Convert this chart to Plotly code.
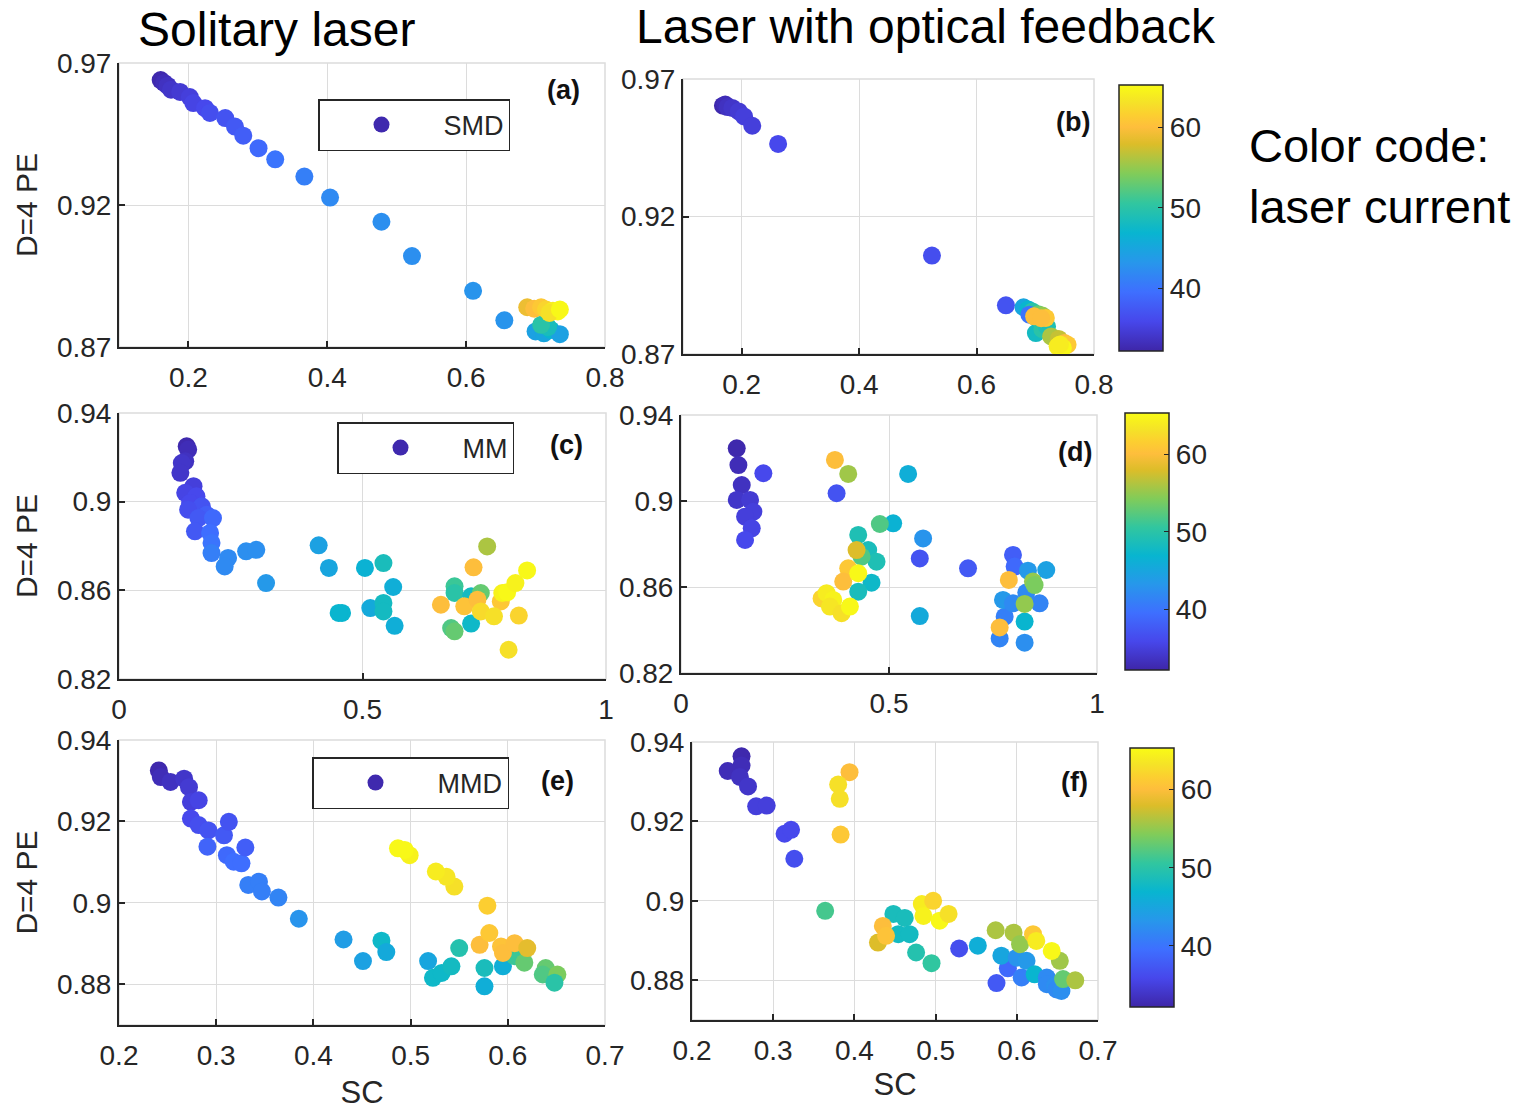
import plotly.graph_objects as go

# ---------------- data: SC, D=4 PE and laser current (mA) ----------------
# (a) solitary laser, SMD
sc_a = [0.160, 0.165, 0.170, 0.175, 0.188, 0.202, 0.207, 0.224, 0.231, 0.253,
        0.267, 0.279, 0.301, 0.325, 0.367, 0.404, 0.478, 0.522, 0.610, 0.655,
        0.700, 0.712, 0.722, 0.735, 0.718, 0.708,
        0.688, 0.698, 0.708, 0.715, 0.725, 0.732, 0.720, 0.735]
pe_a = [0.9640, 0.9630, 0.9620, 0.9606, 0.9598, 0.9580, 0.9559, 0.9541, 0.9524, 0.9506,
        0.9476, 0.9444, 0.9400, 0.9361, 0.9300, 0.9226, 0.9141, 0.9020, 0.8898, 0.8794,
        0.8755, 0.8748, 0.8760, 0.8745, 0.8770, 0.8778,
        0.8840, 0.8835, 0.8840, 0.8832, 0.8828, 0.8825, 0.8820, 0.8832]
cur_a = [32.5, 33, 33.5, 34, 34.5, 35, 35.5, 36, 36.5, 37,
         37.5, 38, 39, 40, 41, 42, 42.5, 42.5, 43, 43,
         44.5, 45, 47, 44.5, 48.5, 50,
         59, 60, 61, 62, 64, 65, 63, 65]

# (b) laser with optical feedback, SMD
sc_b = [0.168, 0.172, 0.176, 0.184, 0.195, 0.204, 0.218, 0.262, 0.524, 0.650,
        0.680, 0.688, 0.695, 0.690, 0.705, 0.712, 0.700, 0.701, 0.712, 0.720,
        0.698, 0.718, 0.710, 0.727, 0.740, 0.750, 0.755, 0.738, 0.747, 0.742]
pe_b = [0.9603, 0.9607, 0.9598, 0.9595, 0.9582, 0.9564, 0.9530, 0.9464, 0.9058, 0.8877,
        0.8870, 0.8862, 0.8855, 0.8843, 0.8845, 0.8840, 0.8835, 0.8776, 0.8790, 0.8800,
        0.8837, 0.8831, 0.8830, 0.8764, 0.8755, 0.8740, 0.8734, 0.8728, 0.8722, 0.8735]
cur_b = [32.5, 33, 33.5, 34, 34.5, 35, 35, 36, 36.5, 37,
         45, 47, 50, 40, 53, 55, 52, 48, 50, 49,
         60, 61, 60, 56, 57, 60, 61, 64, 65, 64]

# (c) solitary laser, MM
sc_c = [0.139, 0.142, 0.136, 0.129, 0.126, 0.153, 0.136, 0.159, 0.146, 0.170,
        0.142, 0.180, 0.163, 0.193, 0.156, 0.187, 0.190, 0.190, 0.224, 0.217,
        0.261, 0.282, 0.302, 0.410, 0.431, 0.505, 0.543, 0.563, 0.458, 0.451,
        0.516, 0.543, 0.543, 0.566, 0.689, 0.689, 0.723, 0.743, 0.682, 0.689,
        0.723, 0.756, 0.728, 0.661, 0.709, 0.736, 0.784, 0.743, 0.770, 0.821,
        0.800, 0.787, 0.797, 0.814, 0.838]
pe_c = [0.9250, 0.9235, 0.9182, 0.9174, 0.9130, 0.9070, 0.9040, 0.9024, 0.8994, 0.8979,
        0.8964, 0.8941, 0.8926, 0.8926, 0.8866, 0.8859, 0.8814, 0.8768, 0.8746, 0.8708,
        0.8776, 0.8783, 0.8633, 0.8803, 0.8701, 0.8701, 0.8723, 0.8615, 0.8498, 0.8498,
        0.8520, 0.8543, 0.8505, 0.8440, 0.8618, 0.8588, 0.8573, 0.8588, 0.8430, 0.8415,
        0.8450, 0.8798, 0.8704, 0.8535, 0.8528, 0.8558, 0.8550, 0.8505, 0.8483, 0.8486,
        0.8332, 0.8588, 0.8591, 0.8633, 0.8690]
cur_c = [32.5, 33, 33.5, 34, 34, 35, 35.5, 36, 36, 37,
         36.5, 38, 37.5, 39, 37.5, 39.5, 40, 41, 42, 42,
         42.5, 42.5, 43.5, 44.5, 45, 46.5, 48.5, 46, 47, 47,
         45.5, 48, 48, 46, 51, 50, 48, 53, 52, 53,
         47.5, 56, 60, 60, 60.5, 60, 61, 62.5, 63, 62,
         63, 64.5, 65, 64.5, 65]

# (d) laser with optical feedback, MM
sc_d = [0.134, 0.138, 0.146, 0.134, 0.166, 0.174, 0.154, 0.170, 0.154, 0.198,
        0.374, 0.370, 0.402, 0.546, 0.582, 0.574, 0.574, 0.690, 0.510, 0.478,
        0.426, 0.450, 0.470, 0.434, 0.458, 0.426, 0.422, 0.402, 0.390, 0.338,
        0.350, 0.366, 0.358, 0.386, 0.406, 0.426,
        0.798, 0.802, 0.766, 0.826, 0.778, 0.774, 0.798, 0.830, 0.862, 0.834,
        0.878, 0.826, 0.788, 0.766, 0.846, 0.850, 0.826]
pe_d = [0.9245, 0.9167, 0.9074, 0.9005, 0.9005, 0.8950, 0.8927, 0.8873, 0.8819, 0.9129,
        0.9036, 0.9191, 0.9126, 0.9126, 0.8826, 0.8733, 0.8465, 0.8687, 0.8896, 0.8893,
        0.8842, 0.8772, 0.8718, 0.8741, 0.8620, 0.8578, 0.8772, 0.8687, 0.8625, 0.8547,
        0.8571, 0.8540, 0.8509, 0.8478, 0.8509, 0.8664,
        0.8749, 0.8695, 0.8361, 0.8341, 0.8462, 0.8540, 0.8524, 0.8574, 0.8524, 0.8676,
        0.8679, 0.8439, 0.8633, 0.8412, 0.8625, 0.8609, 0.8521]
cur_d = [32.5, 33, 33.5, 34, 34.5, 35, 35, 35.5, 36, 36,
         37, 60, 55.5, 46, 43, 37, 45.5, 37.5, 46.5, 52,
         49, 48.5, 49, 52, 47.5, 48.5, 58, 61, 60, 62,
         64, 64.5, 63.5, 63, 65, 65,
         38, 39, 41.5, 42.5, 41, 43.5, 42, 42, 41.5, 43.5,
         44.5, 47, 60, 60, 55, 54, 55]

# (e) solitary laser, MMD
sc_e = [0.241, 0.243, 0.253, 0.267, 0.272, 0.274, 0.282, 0.274, 0.282, 0.292,
        0.308, 0.313, 0.291, 0.311, 0.318, 0.326, 0.330, 0.333, 0.344, 0.347,
        0.364, 0.385, 0.431, 0.451, 0.470, 0.475, 0.518, 0.523, 0.532, 0.542,
        0.550, 0.576, 0.576, 0.595, 0.607, 0.617, 0.639, 0.636, 0.651, 0.648,
        0.571, 0.581, 0.593, 0.595, 0.607, 0.620, 0.579, 0.545, 0.537, 0.526,
        0.499, 0.494, 0.487]
pe_e = [0.9325, 0.9309, 0.9297, 0.9305, 0.9284, 0.9248, 0.9252, 0.9207, 0.9191, 0.9178,
        0.9166, 0.9199, 0.9138, 0.9117, 0.9101, 0.9097, 0.9136, 0.9044, 0.9052, 0.9028,
        0.9013, 0.8961, 0.8910, 0.8857, 0.8907, 0.8879, 0.8857, 0.8816, 0.8828, 0.8844,
        0.8889, 0.8840, 0.8795, 0.8844, 0.8869, 0.8853, 0.8840, 0.8824, 0.8824, 0.8804,
        0.8897, 0.8926, 0.8893, 0.8877, 0.8901, 0.8889, 0.8993, 0.9040, 0.9064, 0.9077,
        0.9117, 0.9130, 0.9134]
cur_e = [32.5, 33, 33.5, 34, 34.5, 35, 35.5, 36, 36.5, 37,
         37.5, 37, 38.5, 39, 39.5, 39.5, 38, 41, 41, 41,
         41.5, 43, 44, 44.5, 47.5, 45.5, 45, 47.5, 47.5, 48,
         49.5, 48.5, 46, 46, 51, 53, 53, 52, 54, 50,
         60, 61, 60.5, 60, 60, 58.5, 61.5, 63, 63.5, 64,
         64.5, 65, 65]

# (f) laser with optical feedback, MMD
sc_f = [0.261, 0.261, 0.244, 0.259, 0.269, 0.279, 0.292, 0.314, 0.322, 0.326,
        0.394, 0.380, 0.382, 0.383, 0.364, 0.448, 0.462, 0.454, 0.468, 0.476,
        0.495, 0.429, 0.435, 0.439, 0.483, 0.497, 0.485, 0.505, 0.516, 0.529,
        0.552, 0.575, 0.589, 0.606, 0.581, 0.600, 0.612, 0.622, 0.637, 0.637,
        0.647, 0.649, 0.655, 0.574, 0.596, 0.604, 0.657, 0.653, 0.672, 0.620,
        0.624, 0.643]
pe_f = [0.9364, 0.9341, 0.9327, 0.9312, 0.9288, 0.9238, 0.9240, 0.9169, 0.9179, 0.9106,
        0.9324, 0.9293, 0.9257, 0.9167, 0.8975, 0.8967, 0.8957, 0.8916, 0.8916, 0.8870,
        0.8843, 0.8895, 0.8937, 0.8912, 0.8992, 0.9000, 0.8962, 0.8950, 0.8967, 0.8880,
        0.8887, 0.8793, 0.8830, 0.8807, 0.8862, 0.8857, 0.8849, 0.8815, 0.8807, 0.8790,
        0.8786, 0.8777, 0.8773, 0.8926, 0.8920, 0.8891, 0.8803, 0.8849, 0.8800, 0.8916,
        0.8899, 0.8874]
cur_f = [32.5, 33, 33, 33.5, 34, 35, 35, 36, 36, 36.5,
         60, 63, 63, 61, 51.5, 48.5, 48.5, 48, 48, 49.5,
         50.5, 58, 60, 60.5, 64, 62, 64.5, 65, 63, 36.5,
         46, 37.5, 39, 41, 45, 43, 43.5, 47, 42, 42,
         42.5, 42, 42.5, 56, 56, 55, 53, 55.5, 56, 61,
         64, 65]

# ---------------- styling ----------------
FONT = "Arial, Liberation Sans, sans-serif"
DARK = "#262626"
GRID = "#DCDCDC"
W, H = 1534, 1110

# parula colour map
parula_rgb = [
    (0.2422, 0.1504, 0.6603), (0.2803, 0.2782, 0.9221), (0.2440, 0.4358, 0.9988),
    (0.1540, 0.5902, 0.9218), (0.0297, 0.7082, 0.8163), (0.1938, 0.7758, 0.6251),
    (0.5044, 0.7993, 0.3480), (0.8634, 0.7406, 0.1596), (0.9956, 0.7434, 0.2371),
    (0.9892, 0.8136, 0.1885), (0.9610, 0.8890, 0.1537), (0.9769, 0.9839, 0.0805)]
parula_pos = [0, 7, 14, 21, 28, 35, 42, 49, 53, 56, 59, 63]
parula = [[p / 63, "rgb(%d,%d,%d)" % tuple(round(c * 255) for c in rgb)]
          for p, rgb in zip(parula_pos, parula_rgb)]
CMIN, CMAX = 32.2, 65.3


def parula_at(value):
    """Colour of the parula map for a current value (linear between stops)."""
    t = min(max((value - CMIN) / (CMAX - CMIN), 0), 1)
    stops = [p / 63 for p in parula_pos]
    for j in range(len(stops) - 1):
        if stops[j] <= t <= stops[j + 1]:
            f = (t - stops[j]) / (stops[j + 1] - stops[j])
            c = [a + (b - a) * f for a, b in zip(parula_rgb[j], parula_rgb[j + 1])]
            return "rgb(%d,%d,%d)" % tuple(round(v * 255) for v in c)
    return parula[-1][1]


def px_x(x):
    return x / W


def px_y(y):
    return 1 - y / H


# panel geometry in pixels: (left, right, top, bottom)
boxes = {
    "a": (119, 605, 63, 347), "b": (683, 1094, 79, 354),
    "c": (119, 606, 413, 679), "d": (681, 1097, 415, 673),
    "e": (119, 605, 740, 1025), "f": (692, 1098, 742, 1020),
}

panels = [
    ("a", sc_a, pe_a, cur_a, "coloraxis", "SMD", "legend"),
    ("b", sc_b, pe_b, cur_b, "coloraxis", None, None),
    ("c", sc_c, pe_c, cur_c, "coloraxis2", "MM", "legend2"),
    ("d", sc_d, pe_d, cur_d, "coloraxis2", None, None),
    ("e", sc_e, pe_e, cur_e, "coloraxis3", "MMD", "legend3"),
    ("f", sc_f, pe_f, cur_f, "coloraxis3", None, None),
]

x_ranges = {"a": [0.1, 0.8], "b": [0.1, 0.8], "c": [0, 1], "d": [0, 1],
            "e": [0.2, 0.7], "f": [0.2, 0.7]}
y_ranges = {"a": [0.87, 0.97], "b": [0.87, 0.97], "c": [0.82, 0.94], "d": [0.82, 0.94],
            "e": [0.87, 0.94], "f": [0.87, 0.94]}
x_ticks = {"a": [0.2, 0.4, 0.6, 0.8], "b": [0.2, 0.4, 0.6, 0.8],
           "c": [0, 0.5, 1], "d": [0, 0.5, 1],
           "e": [0.2, 0.3, 0.4, 0.5, 0.6, 0.7], "f": [0.2, 0.3, 0.4, 0.5, 0.6, 0.7]}
y_ticks = {"a": [0.87, 0.92, 0.97], "b": [0.87, 0.92, 0.97],
           "c": [0.82, 0.86, 0.9, 0.94], "d": [0.82, 0.86, 0.9, 0.94],
           "e": [0.88, 0.9, 0.92, 0.94], "f": [0.88, 0.9, 0.92, 0.94]}
sc_standoff = {"e": 14, "f": 9}


def fmt(v):
    return ("%g" % v)


fig = go.Figure()
layout = {}
shapes = []
for i, (key, sc, pe, cur, cax, name, leg) in enumerate(panels):
    n = "" if i == 0 else str(i + 1)
    l, r, t, b = boxes[key]
    tick_font = dict(family=FONT, size=28, color=DARK)
    common = dict(showline=True, linecolor=DARK, linewidth=2, ticks="inside",
                  ticklen=6, tickwidth=1.5, tickcolor=DARK, showgrid=True,
                  gridcolor=GRID, gridwidth=1, zeroline=False, tickfont=tick_font,
                  automargin=False)
    layout["xaxis" + n] = dict(
        common, domain=[px_x(l), px_x(r)], range=x_ranges[key], anchor="y" + n,
        tickvals=x_ticks[key], ticktext=[fmt(v) for v in x_ticks[key]],
        ticklabelstandoff=4,
        title=dict(text="SC", font=dict(family=FONT, size=31, color=DARK),
                   standoff=sc_standoff[key]) if key in sc_standoff else None)
    layout["yaxis" + n] = dict(
        common, domain=[px_y(b), px_y(t)], range=y_ranges[key], anchor="x" + n,
        tickvals=y_ticks[key], ticktext=[fmt(v) for v in y_ticks[key]],
        ticklabelstandoff=0,
        title=dict(text="D=4 PE", font=dict(family=FONT, size=30, color=DARK), standoff=10)
        if key in ("a", "c", "e") else None)

    # light frame on the top and right sides of each axes box
    shapes.append(dict(type="rect", xref="x%s domain" % n, yref="y%s domain" % n,
                       x0=0, x1=1, y0=0, y1=1, line=dict(color=GRID, width=1.5),
                       layer="below"))

    fig.add_trace(go.Scatter(
        x=sc, y=pe, mode="markers", xaxis="x" + n, yaxis="y" + n,
        marker=dict(size=18, color=cur, coloraxis=cax, line=dict(width=0), opacity=1),
        name=key, showlegend=False,
        hovertemplate="SC %{x}<br>PE %{y}<br>I %{marker.color} mA<extra></extra>"))
    if name:
        # legend entry, coloured like the lowest-current point of the series
        fig.add_trace(go.Scatter(
            x=[None], y=[None], mode="markers", xaxis="x" + n, yaxis="y" + n,
            marker=dict(size=20, color=parula_at(min(cur))), name=name,
            showlegend=True, legend=leg, hoverinfo="skip"))

# colour bars, one per row
cbars = {"coloraxis": (1119, 85, 351), "coloraxis2": (1125, 413, 670),
         "coloraxis3": (1130, 748, 1007)}
for cax, (cx, ct, cb) in cbars.items():
    layout[cax] = dict(
        colorscale=parula, cmin=CMIN, cmax=CMAX,
        colorbar=dict(x=px_x(cx), xanchor="left", y=px_y((ct + cb) / 2),
                      yanchor="middle", len=(cb - ct) / H, lenmode="fraction",
                      thickness=44, thicknessmode="pixels", xpad=0, ypad=0,
                      outlinecolor=DARK, outlinewidth=1.5,
                      tickvals=[40, 50, 60], ticks="inside", ticklen=5,
                      tickcolor=DARK, tickfont=dict(family=FONT, size=28, color=DARK)))

# legend boxes of the left column
legend_pos = {"legend": (318, 99), "legend2": (337, 422), "legend3": (312, 757)}
for lg, (lx, ly) in legend_pos.items():
    layout[lg] = dict(x=px_x(lx), y=px_y(ly), xanchor="left", yanchor="top",
                      bgcolor="white", bordercolor=DARK, borderwidth=1.5,
                      font=dict(family=FONT, size=27, color=DARK),
                      itemwidth=114, itemsizing="trace")

annotations = []
# panel tags
tags = {"a": (563, 90), "b": (1073, 122), "c": (566, 445), "d": (1075, 452),
        "e": (557, 781), "f": (1074, 782)}
for k, (tx, ty) in tags.items():
    annotations.append(dict(text="<b>(%s)</b>" % k, x=px_x(tx), y=px_y(ty),
                            xref="paper", yref="paper", showarrow=False,
                            xanchor="center", yanchor="middle",
                            font=dict(family=FONT, size=27, color="#111111")))
# column headings and colour note
annotations.append(dict(text="Solitary laser", x=px_x(276), y=px_y(30), xref="paper",
                        yref="paper", showarrow=False, xanchor="center", yanchor="middle",
                        font=dict(family=FONT, size=48, color="black")))
annotations.append(dict(text="Laser with optical feedback", x=px_x(926), y=px_y(27),
                        xref="paper", yref="paper", showarrow=False, xanchor="center",
                        yanchor="middle", font=dict(family=FONT, size=48, color="black")))
annotations.append(dict(text="Color code:<br>laser current", x=px_x(1247), y=px_y(176),
                        xref="paper", yref="paper", showarrow=False, xanchor="left",
                        yanchor="middle", align="left",
                        font=dict(family=FONT, size=47, color="black")))

fig.update_layout(
    **layout, annotations=annotations, shapes=shapes, width=W, height=H,
    margin=dict(l=0, r=0, t=0, b=0, autoexpand=False), paper_bgcolor="white",
    plot_bgcolor="white", font=dict(family=FONT, color=DARK), hovermode="closest")

fig.write_html("out.html")
